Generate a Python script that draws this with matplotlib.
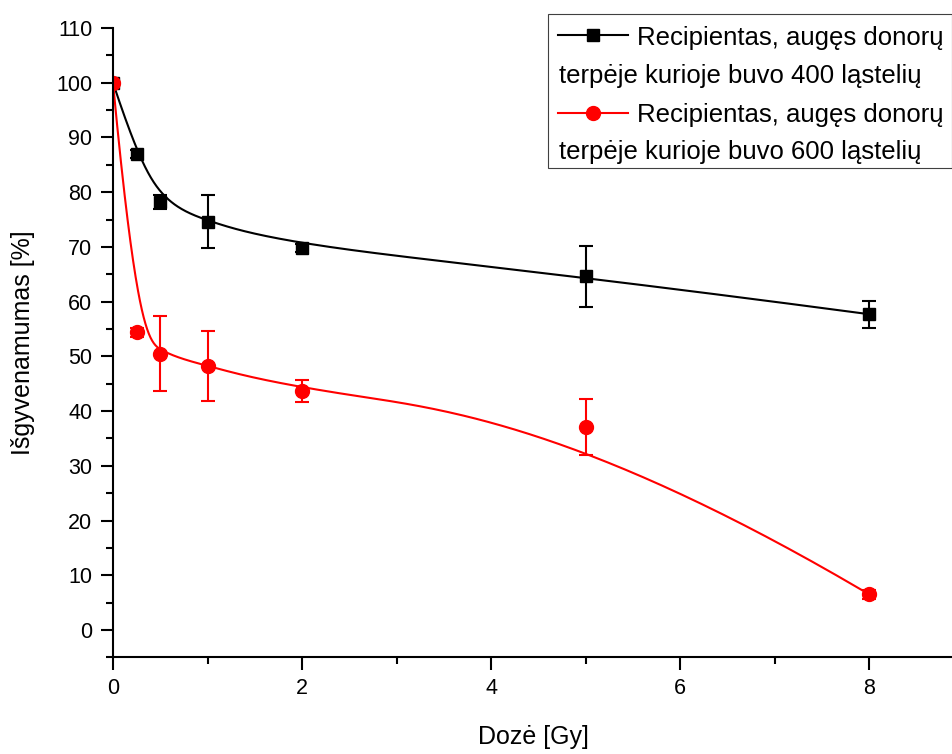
import numpy as np
import matplotlib
matplotlib.use("Agg")
import matplotlib.pyplot as plt
from matplotlib.lines import Line2D
from matplotlib.patches import Rectangle
from matplotlib.ticker import MultipleLocator

plt.rcParams['font.family'] = ['Liberation Sans', 'DejaVu Sans']

# duomenys
doze = [0, 0.25, 0.5, 1, 2, 5, 8]
y400 = [100, 87.0, 78.2, 74.6, 69.8, 64.6, 57.7]
err400 = [0, 0.8, 1.2, 4.8, 0.7, 5.5, 2.5]
y600 = [100, 54.4, 50.5, 48.3, 43.6, 37.1, 6.5]
err600 = [0, 0.8, 6.8, 6.4, 2.0, 5.1, 0.8]

label1 = ["Recipientas, augęs donorų", "terpėje kurioje buvo 400 ląstelių"]
label2 = ["Recipientas, augęs donorų", "terpėje kurioje buvo 600 ląstelių"]


def bspline(px, py, n=400, k=3):
    # clamped B-spline, data points used as control points (Origin "B-Spline" line)
    px = np.asarray(px, float)
    py = np.asarray(py, float)
    m = len(px)
    knots = np.concatenate([np.zeros(k), np.arange(m - k + 1), np.full(k, m - k)]).astype(float)
    u = np.linspace(0, m - k, n)
    u[-1] -= 1e-9
    N = np.zeros((n, len(knots) - 1))
    for i in range(len(knots) - 1):
        N[:, i] = (knots[i] <= u) & (u < knots[i + 1])
    for d in range(1, k + 1):
        Nn = np.zeros((n, len(knots) - 1 - d))
        for i in range(len(knots) - 1 - d):
            a = knots[i + d] - knots[i]
            b = knots[i + d + 1] - knots[i + 1]
            t1 = (u - knots[i]) / a * N[:, i] if a > 0 else 0
            t2 = (knots[i + d + 1] - u) / b * N[:, i + 1] if b > 0 else 0
            Nn[:, i] = t1 + t2
        N = Nn
    return N @ px, N @ py


W, H = 953, 754
fig = plt.figure(figsize=(W / 100, H / 100), dpi=100)
ax = fig.add_axes([113 / W, 96.6 / H, 840 / W, 629.4 / H])

for y, e, col, mk, ms in [(y400, err400, 'black', 's', 8.5), (y600, err600, 'red', 'o', 10)]:
    sx, sy = bspline(doze, y)
    ax.plot(sx, sy, color=col, lw=1.5)
    ax.errorbar(doze, y, yerr=e, fmt='none', ecolor=col, elinewidth=1.5,
                capsize=5, capthick=1.5)
    ax.plot(doze, y, linestyle='none', marker=mk, ms=ms, color=col)

ax.set_xlim(0, 8.885)
ax.set_ylim(-5, 110)
ax.xaxis.set_major_locator(MultipleLocator(2))
ax.xaxis.set_minor_locator(MultipleLocator(1))
ax.yaxis.set_major_locator(MultipleLocator(10))
ax.yaxis.set_minor_locator(MultipleLocator(5))
ax.set_yticks(np.arange(0, 111, 10))
ax.spines['top'].set_visible(False)
ax.spines['right'].set_visible(False)
for s in ('left', 'bottom'):
    ax.spines[s].set_linewidth(1.5)
ax.tick_params(which='major', length=9, width=1.5, labelsize=15.5, pad=6)
ax.tick_params(which='minor', length=5, width=1.5)

ax.set_xlabel("Dozė [Gy]", fontsize=18)
ax.xaxis.set_label_coords(0.5, -0.108)
ax.set_ylabel("Išgyvenamumas [%]", fontsize=18)
ax.yaxis.set_label_coords(-0.093, 0.5)

# legenda
fig.add_artist(Rectangle((548 / W, 1 - 168 / H), 404 / W, 154 / H, transform=fig.transFigure,
                         fill=False, edgecolor='#404040', lw=0.8))
for row, col, mk, ms, lab in [(0, 'black', 's', 8, label1), (1, 'red', 'o', 10, label2)]:
    yh = 35 + row * 78
    fig.add_artist(Line2D([558 / W, 628 / W], [1 - yh / H] * 2, transform=fig.transFigure,
                          color=col, lw=1.5))
    fig.add_artist(Line2D([593 / W], [1 - yh / H], transform=fig.transFigure,
                          color=col, marker=mk, ms=ms))
    fig.text(637 / W, 1 - (45 + row * 77) / H, lab[0], fontsize=18.5, va='baseline')
    fig.text(559 / W, 1 - (83 + row * 76) / H, lab[1], fontsize=18.5, va='baseline')

fig.savefig("out.png", dpi=100)
